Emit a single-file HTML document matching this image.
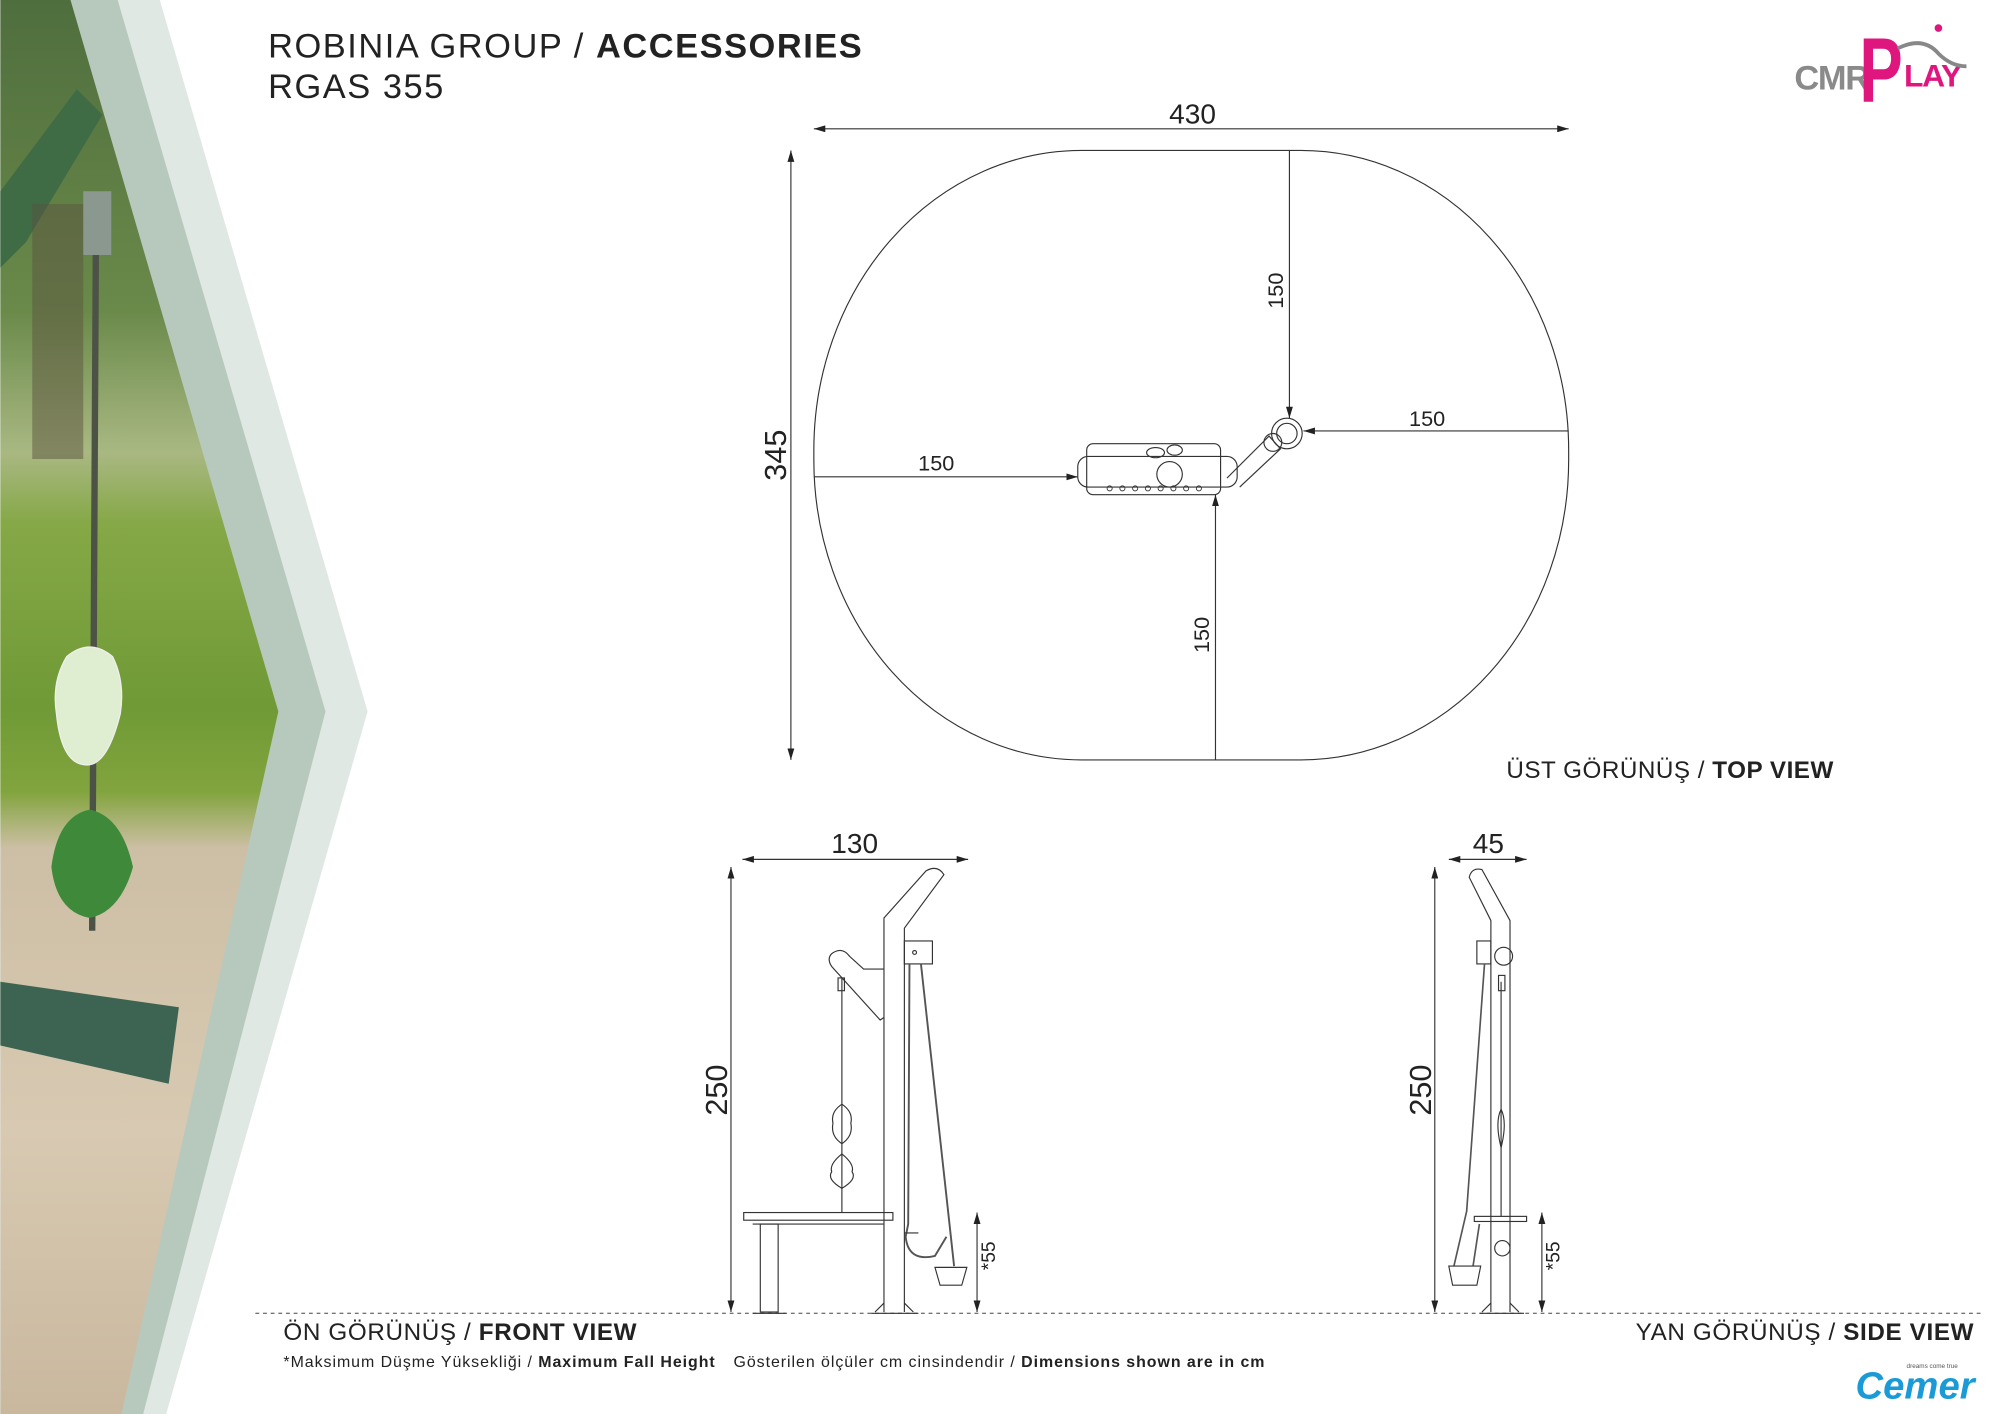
<!DOCTYPE html>
<html><head><meta charset="utf-8"><style>
html,body{margin:0;padding:0;background:#fff;}
svg{display:block;}
text{font-family:"Liberation Sans","DejaVu Sans",sans-serif;}
</style></head><body>
<svg width="2000" height="1414" viewBox="0 0 1568 1109" xmlns="http://www.w3.org/2000/svg">
<defs>
<linearGradient id="ph" x1="0" y1="0" x2="0" y2="1">
<stop offset="0" stop-color="#4f6e3e"/>
<stop offset="0.22" stop-color="#6a8a4a"/>
<stop offset="0.32" stop-color="#a9b882"/>
<stop offset="0.37" stop-color="#86a847"/>
<stop offset="0.5" stop-color="#6f9a35"/>
<stop offset="0.56" stop-color="#82a43e"/>
<stop offset="0.6" stop-color="#cdbfa5"/>
<stop offset="0.8" stop-color="#d8c9b2"/>
<stop offset="1" stop-color="#c9b89e"/>
</linearGradient>
<marker id="a" viewBox="0 0 10 6" refX="10" refY="3" markerWidth="10" markerHeight="6" orient="auto-start-reverse"><path d="M0,0 L10,3 L0,6 z" fill="#222"/></marker>
</defs>
<!-- left panel -->
<polygon points="0,0 125,0 288,558 130,1109 0,1109" fill="#dfe8e2"/>
<polygon points="0,0 92,0 255,558 112,1109 0,1109" fill="#b7c9bd"/>
<polygon points="0,0 55,0 218,558 95,1109 0,1109" fill="url(#ph)"/>
<!-- photo details -->
<polygon points="0,150 60,70 80,90 20,190 0,210" fill="#3f6b45"/>
<rect x="25" y="160" width="40" height="200" fill="#5b5440" opacity="0.5"/>
<line x1="75" y1="170" x2="72" y2="730" stroke="#4d5246" stroke-width="5"/>
<rect x="65" y="150" width="22" height="50" fill="#8a9890"/>
<path d="M52,515 q18,-15 36,0 q10,20 6,45 q-10,40 -26,40 q-20,0 -24,-40 q-4,-25 8,-45z" fill="#dfeed0" stroke="#eee"/>
<path d="M40,680 q5,-40 30,-45 q25,5 34,45 q-10,35 -34,40 q-26,-5 -30,-40z" fill="#3f8a3a"/>
<polygon points="0,770 140,790 132,850 0,820" fill="#3d6452"/>
<!-- header -->
<text x="210" y="45" font-size="27" fill="#222" letter-spacing="1.2">ROBINIA GROUP / <tspan font-weight="bold">ACCESSORIES</tspan></text>
<text x="210" y="77" font-size="27" fill="#222" letter-spacing="1.2">RGAS 355</text>
<!-- logo -->
<text x="1407" y="70" font-size="27" font-weight="bold" fill="#8a8a8a" letter-spacing="-1">CMR</text>
<text x="1458" y="80" font-size="72" font-weight="bold" fill="#e0167f" textLength="34" lengthAdjust="spacingAndGlyphs">P</text>
<text x="1493" y="68" font-size="25" font-weight="bold" fill="#e0167f" letter-spacing="-1">LAY</text>
<path d="M1488,38 q20,-10 32,4 q10,10 22,10" stroke="#888" stroke-width="3" fill="none"/>
<circle cx="1520" cy="22" r="3" fill="#e0167f"/>
<!-- top view -->
<g stroke="#333" fill="none" stroke-width="0.9">
<rect x="638" y="118" width="592" height="478" rx="210" ry="235"/>
<line x1="638" y1="101" x2="1230" y2="101" marker-start="url(#a)" marker-end="url(#a)"/>
<line x1="620" y1="118" x2="620" y2="596" marker-start="url(#a)" marker-end="url(#a)"/>
<line x1="1011" y1="118" x2="1011" y2="328" marker-end="url(#a)"/>
<line x1="1230" y1="338" x2="1022" y2="338" marker-end="url(#a)"/>
<line x1="638" y1="374" x2="845" y2="374" marker-end="url(#a)"/>
<line x1="953" y1="596" x2="953" y2="388" marker-end="url(#a)"/>
<rect x="852" y="348" width="105" height="40" rx="5"/>
<rect x="845" y="358" width="125" height="24" rx="8"/>
<path d="M962,375 L995,342 L1004,352 L972,382"/>
<circle cx="998" cy="347" r="7"/>
<circle cx="1009" cy="340" r="12"/>
<circle cx="1009" cy="340" r="8"/>
<circle cx="917" cy="372" r="10"/>
<ellipse cx="906" cy="355" rx="7" ry="4"/><ellipse cx="921" cy="353" rx="6" ry="4"/>
<g stroke-width="0.7"><circle cx="870" cy="383" r="2"/><circle cx="880" cy="383" r="2"/><circle cx="890" cy="383" r="2"/><circle cx="900" cy="383" r="2"/><circle cx="910" cy="383" r="2"/><circle cx="920" cy="383" r="2"/><circle cx="930" cy="383" r="2"/><circle cx="940" cy="383" r="2"/></g>
</g>
<g fill="#222" font-size="17">
<text x="935" y="97" text-anchor="middle" font-size="22">430</text>
<text transform="translate(616,357) rotate(-90)" text-anchor="middle" font-size="24">345</text>
<text transform="translate(1006,228) rotate(-90)" text-anchor="middle">150</text>
<text x="1119" y="334" text-anchor="middle">150</text>
<text x="734" y="369" text-anchor="middle">150</text>
<text transform="translate(948,498) rotate(-90)" text-anchor="middle">150</text>
</g>
<text x="1438" y="610" font-size="19" fill="#222" text-anchor="end" letter-spacing="0.4">ÜST GÖRÜNÜŞ / <tspan font-weight="bold">TOP VIEW</tspan></text>
<!-- ground -->
<line x1="200" y1="1030" x2="1555" y2="1030" stroke="#444" stroke-width="0.8" stroke-dasharray="3,3"/>
<!-- front view -->
<g stroke="#333" fill="none" stroke-width="0.9">
<line x1="582" y1="674" x2="759" y2="674" marker-start="url(#a)" marker-end="url(#a)"/>
<line x1="573" y1="680" x2="573" y2="1029" marker-start="url(#a)" marker-end="url(#a)"/>
<line x1="766" y1="951" x2="766" y2="1029" marker-start="url(#a)" marker-end="url(#a)"/>
<path d="M693,1029 V720 L726,683 Q735,678 740,686 L709,728 V1029"/>
<path d="M686,1029 L693,1022 M716,1029 L709,1022"/>
<line x1="683" y1="1030" x2="720" y2="1030"/>
<rect x="709" y="738" width="22" height="18"/>
<circle cx="717" cy="747" r="1.5"/>
<path d="M693,760 L677,760 L666,750 Q660,742 652,748 Q648,752 652,758 L690,800 L693,798"/>
<line x1="660" y1="767" x2="660" y2="951"/>
<rect x="657" y="767" width="5" height="10"/>
<path d="M660,866 q-9,6 -7,15 q-2,10 7,16 q9,-6 7,-16 q2,-9 -7,-15z"/>
<path d="M660,905 q-10,8 -8,14 q-4,6 8,13 q12,-7 8,-13 q2,-6 -8,-14z"/>
<rect x="583" y="951" width="117" height="6"/>
<line x1="590" y1="960" x2="693" y2="960"/>
<rect x="596" y="960" width="14" height="69"/>
<line x1="590" y1="1030" x2="616" y2="1030"/>
<path d="M713,756 L712,960 L710,970 Q712,990 733,985 L742,970" stroke-width="1.5" stroke="#555"/>
<path d="M722,756 L748,993" stroke-width="1.5" stroke="#555"/>
<line x1="709" y1="967" x2="720" y2="967"/>
<path d="M733,994 L758,994 L754,1008 L737,1008 Z"/>
</g>
<g fill="#222">
<text x="670" y="669" text-anchor="middle" font-size="22">130</text>
<text transform="translate(570,855) rotate(-90)" text-anchor="middle" font-size="24">250</text>
<text transform="translate(780,985) rotate(-90)" text-anchor="middle" font-size="15">*55</text>
</g>
<!-- side view -->
<g stroke="#333" fill="none" stroke-width="0.9">
<line x1="1136" y1="674" x2="1197" y2="674" marker-start="url(#a)" marker-end="url(#a)"/>
<line x1="1125" y1="680" x2="1125" y2="1029" marker-start="url(#a)" marker-end="url(#a)"/>
<line x1="1209" y1="951" x2="1209" y2="1029" marker-start="url(#a)" marker-end="url(#a)"/>
<path d="M1169,1029 V722 L1152,688 Q1154,680 1162,682 L1184,722 V1029"/>
<path d="M1162,1029 L1169,1022 M1191,1029 L1184,1022"/>
<line x1="1160" y1="1030" x2="1195" y2="1030"/>
<rect x="1158" y="738" width="11" height="18"/>
<circle cx="1179" cy="750" r="7"/>
<circle cx="1178" cy="979" r="6"/>
<line x1="1177" y1="770" x2="1177" y2="954"/>
<rect x="1175" y="765" width="5" height="12"/>
<path d="M1177,870 q-5,10 0,30 q5,-20 0,-30z"/>
<rect x="1156" y="954" width="41" height="4"/>
<path d="M1164,756 L1150,950 L1140,993 M1160,960 L1155,993" stroke="#555" stroke-width="1.3"/>
<path d="M1136,993 L1161,993 L1158,1008 L1139,1008 Z"/>
</g>
<g fill="#222">
<text x="1167" y="669" text-anchor="middle" font-size="22">45</text>
<text transform="translate(1122,855) rotate(-90)" text-anchor="middle" font-size="24">250</text>
<text transform="translate(1223,985) rotate(-90)" text-anchor="middle" font-size="15">*55</text>
</g>
<!-- captions -->
<text x="222" y="1051" font-size="19" fill="#222" letter-spacing="0.5">ÖN GÖRÜNÜŞ / <tspan font-weight="bold">FRONT VIEW</tspan></text>
<text x="1548" y="1051" font-size="19" fill="#222" text-anchor="end" letter-spacing="0.5">YAN GÖRÜNÜŞ / <tspan font-weight="bold">SIDE VIEW</tspan></text>
<text x="222" y="1072" font-size="12.5" fill="#222" letter-spacing="0.75">*Maksimum Düşme Yüksekliği / <tspan font-weight="bold">Maximum Fall Height</tspan><tspan dx="14">Gösterilen ölçüler cm cinsindendir / </tspan><tspan font-weight="bold">Dimensions shown are in cm</tspan></text>
<text x="1455" y="1097" font-size="30" font-weight="bold" font-style="italic" fill="#1a9ad6" font-family="Liberation Serif, serif">Cemer</text>
<text x="1495" y="1073" font-size="5" fill="#555">dreams come true</text>
</svg>
</body></html>
